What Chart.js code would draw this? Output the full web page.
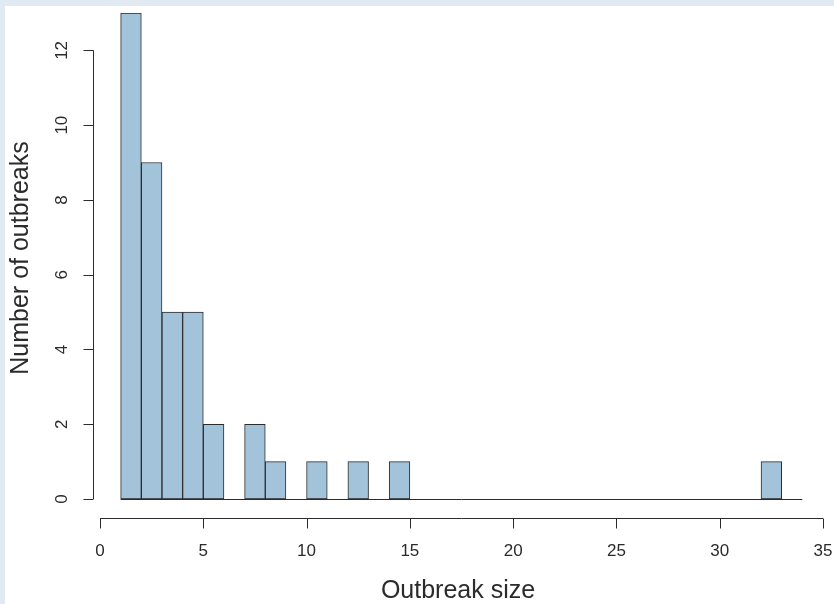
<!DOCTYPE html>
<html>
<head>
<meta charset="utf-8">
<title>Outbreak size histogram</title>
<script src="https://cdn.jsdelivr.net/npm/chart.js@4.4.1/dist/chart.umd.min.js"></script>
<style>
    html, body {
        margin: 0;
        padding: 0;
        background: #e1eaf3;
        width: 834px;
        height: 604px;
        overflow: hidden;
    }
    #wrap {
        position: absolute;
        left: 5px;
        top: 6px;
        width: 829px;
        height: 598px;
        background: #ffffff;
    }
</style>
</head>
<body>
<div id="wrap"><canvas id="histChart"></canvas></div>
<script>
// Histogram bins (left edges, width 1) and counts per bin
const binStarts = [1, 2, 3, 4, 5, 6, 7, 8, 9, 10, 11, 12, 13, 14, 15, 16, 17,
                   18, 19, 20, 21, 22, 23, 24, 25, 26, 27, 28, 29, 30, 31, 32, 33];
const binCounts = [13, 9, 5, 5, 2, 0, 2, 1, 0, 1, 0, 1, 0, 1, 0, 0, 0,
                   0, 0, 0, 0, 0, 0, 0, 0, 0, 0, 0, 0, 0, 0, 1, 0];
const binWidth = 1;

// Axis ticks
const xTicks = [0, 5, 10, 15, 20, 25, 30, 35];
const yTicks = [0, 2, 4, 6, 8, 10, 12];

const xTitle = 'Outbreak size';
const yTitle = 'Number of outbreaks';

const barFill = '#a3c3da';
const inkColor = '#2b2b2b';
const fontFamily = '"Liberation Sans", Arial, sans-serif';

// R-style detached axes, drawn from the chart's own scales
const baseAxes = {
    id: 'baseAxes',
    afterDatasetsDraw(chart) {
        const ctx = chart.ctx;
        const xs = chart.scales.x;
        const ys = chart.scales.y;
        const y0 = ys.getPixelForValue(0);

        ctx.save();
        ctx.strokeStyle = inkColor;
        ctx.fillStyle = inkColor;
        ctx.lineWidth = 1;

        // baseline under the empty bins
        const first = binStarts[0];
        const last = binStarts[binStarts.length - 1] + binWidth;
        const by = Math.round(y0) + 0.5;
        ctx.beginPath();
        ctx.moveTo(xs.getPixelForValue(first), by);
        ctx.lineTo(xs.getPixelForValue(last), by);
        ctx.stroke();

        // x axis
        const axY = Math.round(y0 + 19) + 0.5;
        ctx.beginPath();
        ctx.moveTo(xs.getPixelForValue(xTicks[0]), axY);
        ctx.lineTo(xs.getPixelForValue(xTicks[xTicks.length - 1]), axY);
        xTicks.forEach(t => {
            const px = Math.round(xs.getPixelForValue(t)) + 0.5;
            ctx.moveTo(px, axY);
            ctx.lineTo(px, axY + 10);
        });
        ctx.stroke();

        ctx.font = '17px ' + fontFamily;
        ctx.textAlign = 'center';
        ctx.textBaseline = 'middle';
        xTicks.forEach(t => {
            ctx.fillText(String(t), xs.getPixelForValue(t), y0 + 52);
        });

        // y axis
        const axX = Math.round(xs.getPixelForValue(0) - 7) + 0.5;
        ctx.beginPath();
        ctx.moveTo(axX, ys.getPixelForValue(yTicks[0]));
        ctx.lineTo(axX, ys.getPixelForValue(yTicks[yTicks.length - 1]));
        yTicks.forEach(t => {
            const py = Math.round(ys.getPixelForValue(t)) + 0.5;
            ctx.moveTo(axX, py);
            ctx.lineTo(axX - 10, py);
        });
        ctx.stroke();

        yTicks.forEach(t => {
            ctx.save();
            ctx.translate(axX - 31, ys.getPixelForValue(t));
            ctx.rotate(-Math.PI / 2);
            ctx.fillText(String(t), 0, 0);
            ctx.restore();
        });

        // axis titles
        ctx.font = '25px ' + fontFamily;
        ctx.textBaseline = 'alphabetic';
        ctx.fillText(xTitle, 453, y0 + 99);

        ctx.save();
        ctx.translate(23, 252);
        ctx.rotate(-Math.PI / 2);
        ctx.fillText(yTitle, 0, 0);
        ctx.restore();

        ctx.restore();
    }
};

const ctx = document.getElementById('histChart').getContext('2d');
new Chart(ctx, {
    type: 'bar',
    data: {
        datasets: [{
            data: binStarts.map((s, i) => ({ x: s + binWidth / 2, y: binCounts[i] })),
            backgroundColor: barFill,
            borderColor: inkColor,
            borderWidth: 1,
            borderSkipped: false,
            barPercentage: 1,
            categoryPercentage: 1
        }]
    },
    options: {
        responsive: true,
        maintainAspectRatio: false,
        animation: false,
        layout: {
            padding: { left: 95, right: 11, top: 7, bottom: 105 }
        },
        plugins: {
            legend: { display: false },
            tooltip: { enabled: false }
        },
        scales: {
            x: { type: 'linear', min: 0, max: 35, offset: false, display: false },
            y: { min: 0, max: 13, display: false }
        }
    },
    plugins: [baseAxes]
});
</script>
</body>
</html>
